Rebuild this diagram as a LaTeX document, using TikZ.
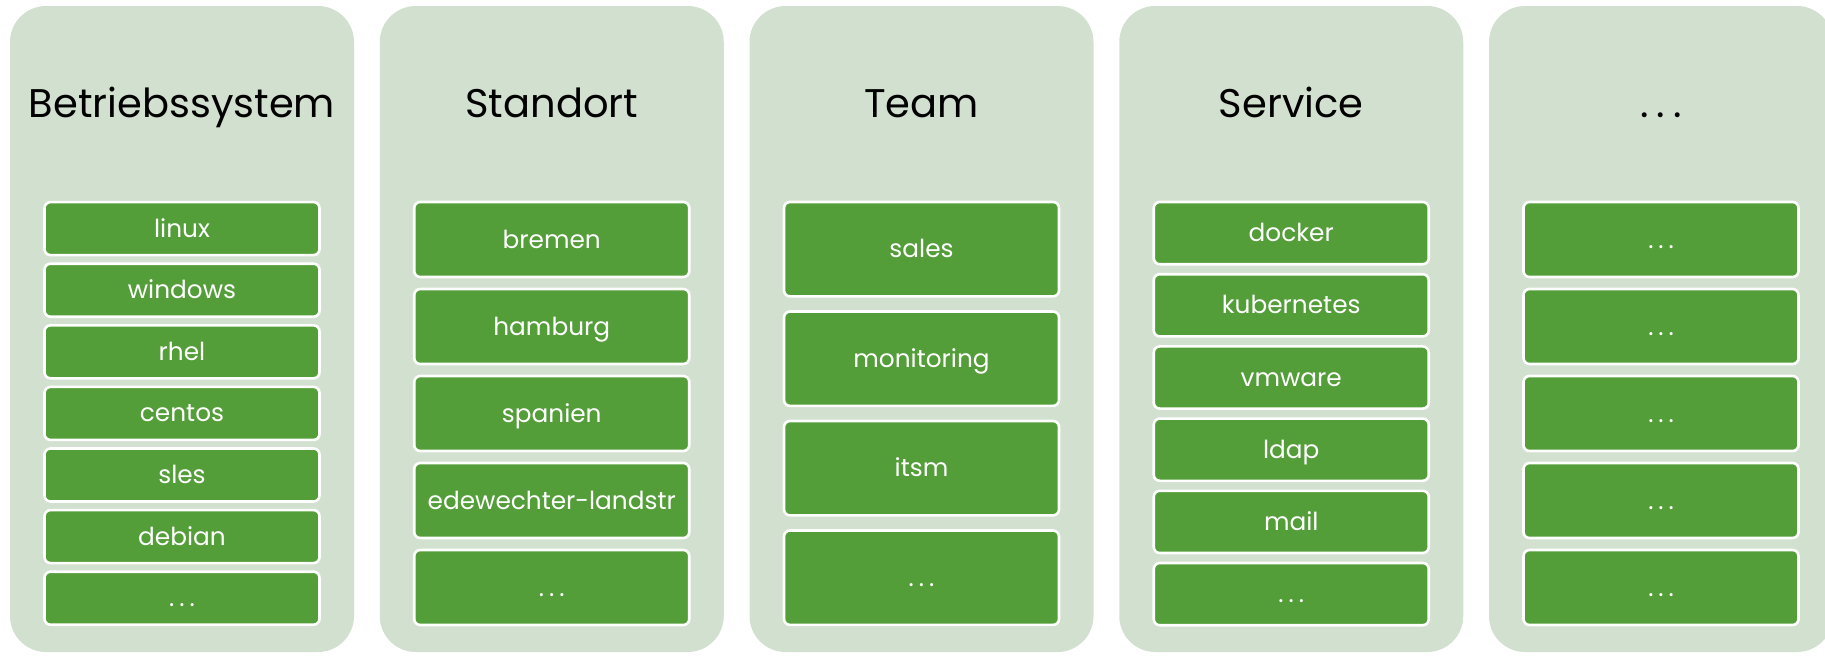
\documentclass[tikz,border=0pt]{standalone}
\usepackage{fontspec}
\setmainfont{Poppins}
\usepackage{tikz}

\definecolor{colbg}{RGB}{210,224,207}
\definecolor{itemgreen}{RGB}{84,158,57}
\newcommand{\wdots}{.\kern.2em.\kern.2em.}

\tikzset{
  column/.style={fill=colbg, rounded corners=18pt, minimum width=172pt, minimum height=323pt, inner sep=0pt},
  coltitle/.style={anchor=base, font=\fontsize{20}{24}\selectfont, text=black},
  item/.style={draw=white, line width=1.3pt, fill=itemgreen, rounded corners=3pt, minimum width=137.5pt,
    inner sep=0pt, text=white, font=\fontsize{12.4}{15}\selectfont, text height=9pt, text depth=0.5pt},
  itemS/.style={item, minimum height=26.5pt},
  itemM/.style={item, minimum height=37.5pt},
  itemL/.style={item, minimum height=47.2pt},
  itemR/.style={item, minimum height=31.1pt}
}

\begin{document}
\begin{tikzpicture}[x=0.5pt, y=-0.5pt]
        \useasboundingbox (0, 0) rectangle (1825, 655);
        \clip (0, 0) rectangle (1825, 655);
        % columns
        \node[column] (osbg) at (182, 329) {};
        \node[column] (ortbg) at (551.75, 329) {};
        \node[column] (teambg) at (921.5, 329) {};
        \node[column] (svcbg) at (1291.25, 329) {};
        \node[column] (morebg) at (1661, 329) {};
        % titles
        \node[coltitle] (os) at (182, 117) {Betriebssystem};
        \node[coltitle] (ort) at (551.75, 117) {Standort};
        \node[coltitle] (team) at (921.5, 117) {Team};
        \node[coltitle] (svc) at (1291.25, 117) {Service};
        \node[coltitle] (more) at (1661, 117) {\wdots};
        % Betriebssystem
        \node[itemS] (linux) at (182, 228.6) {linux};
        \node[itemS] (windows) at (182, 290.2) {windows};
        \node[itemS] (rhel) at (182, 351.8) {rhel};
        \node[itemS] (centos) at (182, 413.4) {centos};
        \node[itemS] (sles) at (182, 475.0) {sles};
        \node[itemS] (debian) at (182, 536.6) {debian};
        \node[itemS] (osmore) at (182, 598.2) {\wdots};
        % Standort
        \node[itemM] (bremen) at (551.75, 239.5) {bremen};
        \node[itemM] (hamburg) at (551.75, 326.5) {hamburg};
        \node[itemM] (spanien) at (551.75, 413.5) {spanien};
        \node[itemM] (edewecht) at (551.75, 500.5) {edewechter-landstr};
        \node[itemM] (ortmore) at (551.75, 587.5) {\wdots};
        % Team
        \node[itemL] (sales) at (921.5, 249.2) {sales};
        \node[itemL] (monitoring) at (921.5, 358.7) {monitoring};
        \node[itemL] (itsm) at (921.5, 468.2) {itsm};
        \node[itemL] (teammore) at (921.5, 577.7) {\wdots};
        % Service
        \node[itemR] (docker) at (1291.25, 233.1) {docker};
        \node[itemR] (kubernetes) at (1291.25, 305.3) {kubernetes};
        \node[itemR] (vmware) at (1291.25, 377.5) {vmware};
        \node[itemR] (ldap) at (1291.25, 449.7) {ldap};
        \node[itemR] (mail) at (1291.25, 521.9) {mail};
        \node[itemR] (svcmore) at (1291.25, 594.1) {\wdots};
        % ...
        \node[itemM] (more1) at (1661, 239.5) {\wdots};
        \node[itemM] (more2) at (1661, 326.5) {\wdots};
        \node[itemM] (more3) at (1661, 413.5) {\wdots};
        \node[itemM] (more4) at (1661, 500.5) {\wdots};
        \node[itemM] (more5) at (1661, 587.5) {\wdots};
    \end{tikzpicture}
\end{document}
